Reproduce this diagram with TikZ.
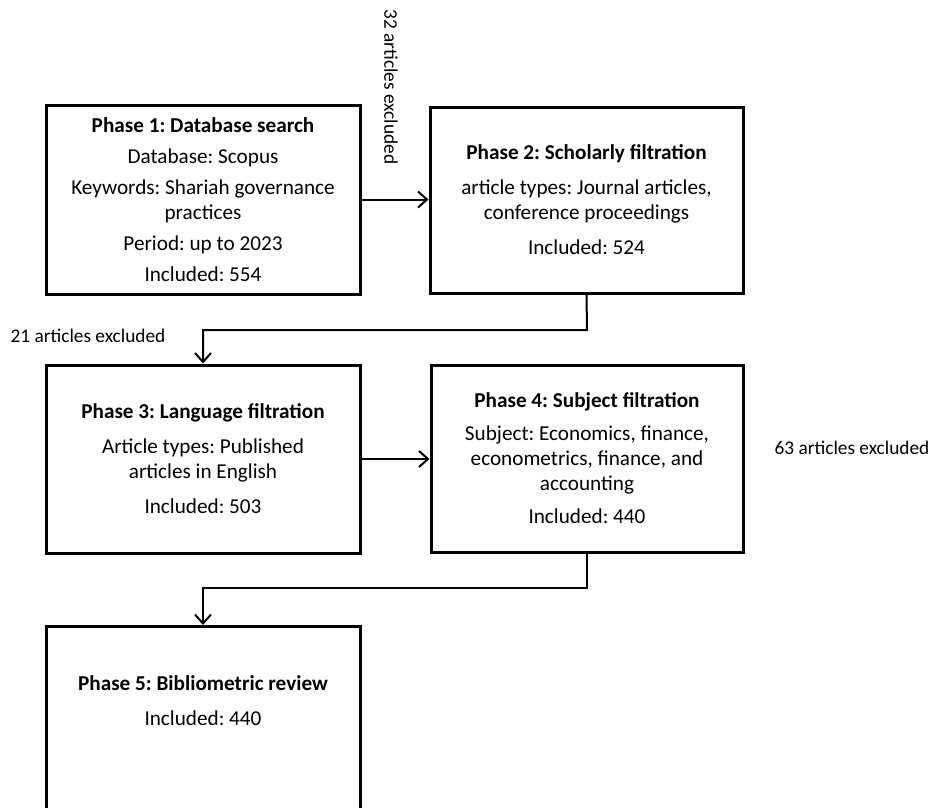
\documentclass[tikz,border=0pt]{standalone}
\usepackage{fontspec}
\setmainfont{Carlito}
\frenchspacing
\usetikzlibrary{arrows.meta}
\tikzset{
  phase/.style={draw=black, line width=3pt, rectangle, align=center, inner sep=0pt,
    font=\fontsize{21.2}{25}\selectfont},
  excl/.style={font=\fontsize{19.3}{22}\selectfont, inner sep=0pt},
  arr/.style={draw=black, line width=2pt, -{Straight Barb[length=9pt,width=16pt,line width=2pt]}},
  link/.style={draw=black, line width=2pt}
}
\begin{document}
\begin{tikzpicture}[x=1pt,y=-1pt]
\useasboundingbox (0,0) rectangle (931,807);
\clip (0,0) rectangle (931,807);
\fill[white] (0,0) rectangle (931,807);

\node[phase, minimum width=314, minimum height=189] (b1) at (203,199.5)
  {\textbf{Phase 1: Database search}\\[6pt]
   Database: Scopus\\[6pt]
   Keywords: Shariah governance\\ practices\\[6pt]
   Period: up to 2023\\[6pt]
   Included: 554};

\node[phase, minimum width=313, minimum height=186] (b2) at (586.5,200)
  {\textbf{Phase 2: Scholarly filtration}\\[10pt]
   article types: Journal articles,\\ conference proceedings\\[10pt]
   Included: 524};

\node[phase, minimum width=314, minimum height=188] (b3) at (203,459)
  {\textbf{Phase 3: Language filtration}\\[10pt]
   Article types: Published\\ articles in English\\[10pt]
   Included: 503};

\node[phase, minimum width=312, minimum height=187] (b4) at (587,458.5)
  {\textbf{Phase 4: Subject filtration}\\[8pt]
   Subject: Economics, finance,\\ econometrics, finance, and\\ accounting\\[8pt]
   Included: 440};

\node[phase, minimum width=314, minimum height=230, anchor=north] (b5) at (203,625) {};
\node[font=\fontsize{21.2}{25}\selectfont, align=center, anchor=center] (t5) at (203,700.5)
  {\textbf{Phase 5: Bibliometric review}\\[10pt] Included: 440};

\node[excl, rotate=-90] (e1) at (391,87) {32 articles excluded};
\node[excl] (e2) at (88,336) {21 articles excluded};
\node[excl] (e3) at (852,448) {63 articles excluded};

\coordinate (k1) at (587,330);
\coordinate (k2) at (587,588);

\draw[arr] (b1.east) -- (b1.east -| b2.west);
\draw[arr] (b2.south) -- (k1) -| (b3.north);
\draw[arr] (b3.east) -- (b3.east -| b4.west);
\draw[arr] (b4.south) -- (k2) -| (b5.north);
\end{tikzpicture}
\end{document}
